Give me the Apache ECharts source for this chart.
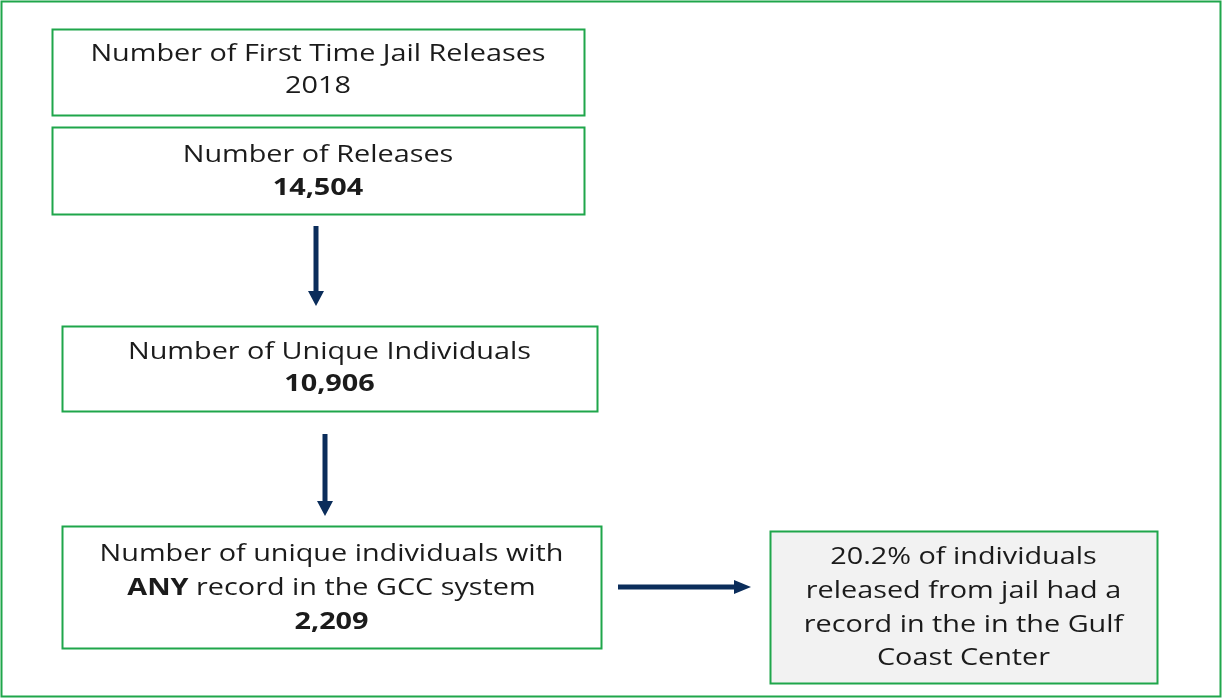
<!DOCTYPE html>
<html>
<head>
<meta charset="utf-8">
<script src="https://cdn.jsdelivr.net/npm/echarts@6/dist/echarts.min.js"></script>
<style>
  html, body { margin: 0; padding: 0; background: #fff; }
  #chart { width: 1223px; height: 699px; }
</style>
</head>
<body>
<div id="chart"></div>
<script>
// flow steps: label and count
var stepTitles = ['Number of First Time Jail Releases', 'Number of Releases', 'Number of Unique Individuals'];
var stepValues = ['2018', '14,504', '10,906'];
var gccLines = ['Number of unique individuals with', 'ANY', ' record in the GCC system'];
var gccValue = '2,209';
var summaryLines = ['20.2% of individuals', 'released from jail had a', 'record in the in the Gulf', 'Coast Center'];

// box layout [x, y, w, h]
var boxes = [
  [52, 29, 532, 86],
  [52, 127, 532, 87],
  [62, 326, 535, 85],
  [62, 526, 539, 122],
  [770, 531, 387, 152]
];

var GREEN = '#1fa64b';
var NAVY = '#0b2d5b';
var INK = '#1b1b1b';
var FONT = '"Open Sans", sans-serif';
var FS = 24;
var STRETCH = 1.2; // source font is a wide-set Calibri

var myChart = echarts.init(document.getElementById('chart'), null, {renderer: 'canvas'});

var els = [];

// outer frame
els.push({
  type: 'rect',
  shape: {x: 1.5, y: 1.5, width: 1219, height: 695},
  style: {fill: 'none', stroke: GREEN, lineWidth: 2}
});

boxes.forEach(function (b, i) {
  els.push({
    type: 'rect',
    shape: {x: b[0] + 0.5, y: b[1] + 0.5, width: b[2], height: b[3]},
    style: {fill: i === 4 ? '#f2f2f2' : '#fff', stroke: GREEN, lineWidth: 2}
  });
});

function textAt(cx, cy, str, rich) {
  var st = {
    text: str,
    x: 0, y: 0,
    align: 'center', verticalAlign: 'middle',
    font: FS + 'px ' + FONT,
    fill: INK
  };
  if (rich) st.rich = rich;
  return {type: 'text', x: cx, y: cy + 2, scaleX: STRETCH, style: st};
}

var richStyles = {
  b: {fontFamily: FONT, fontSize: FS, fontWeight: 'bold', color: INK},
  n: {fontFamily: FONT, fontSize: FS, color: INK}
};

// top three boxes
var lineY = [[52, 84], [153, 186], [350, 382]];
stepTitles.forEach(function (t, i) {
  var b = boxes[i];
  var cx = b[0] + b[2] / 2;
  els.push(textAt(cx, lineY[i][0], t));
  if (i === 0) {
    els.push(textAt(cx, lineY[i][1], stepValues[i]));
  } else {
    els.push(textAt(cx, lineY[i][1], '{b|' + stepValues[i] + '}', richStyles));
  }
});

// GCC box
var g = boxes[3];
var gx = g[0] + g[2] / 2;
els.push(textAt(gx, 552, gccLines[0]));
els.push(textAt(gx, 586, '{b|' + gccLines[1] + '}{n|' + gccLines[2] + '}', richStyles));
els.push(textAt(gx, 620, '{b|' + gccValue + '}', richStyles));

// summary box
var s = boxes[4];
var sx = s[0] + s[2] / 2;
var sy = [555, 589, 623, 656];
summaryLines.forEach(function (t, i) {
  els.push(textAt(sx, sy[i], t));
});

// arrows
function downArrow(x, y0, y1) {
  els.push({type: 'line', shape: {x1: x, y1: y0, x2: x, y2: y1 - 12}, style: {stroke: NAVY, lineWidth: 5}});
  els.push({type: 'polygon', shape: {points: [[x - 8, y1 - 15], [x + 8, y1 - 15], [x, y1]]}, style: {fill: NAVY}});
}
downArrow(316, 226, 306);
downArrow(325, 434, 516);
els.push({type: 'line', shape: {x1: 618, y1: 587, x2: 737, y2: 587}, style: {stroke: NAVY, lineWidth: 5}});
els.push({type: 'polygon', shape: {points: [[734, 580], [734, 594], [751, 587]]}, style: {fill: NAVY}});

myChart.setOption({
  animation: false,
  graphic: {elements: els}
});
</script>
</body>
</html>
